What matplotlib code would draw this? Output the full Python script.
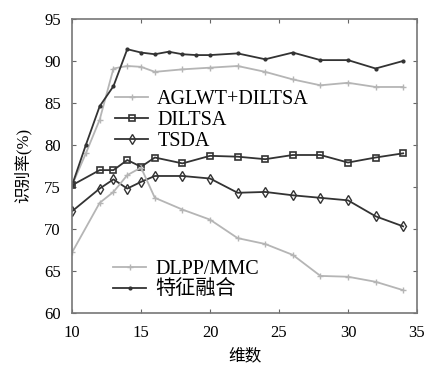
import matplotlib.pyplot as plt

plt.rcParams['font.family'] = ['Liberation Serif', 'Noto Sans CJK SC']

# --- dados ---
x_fus = [10, 11, 12, 13, 14, 15, 16, 17, 18, 19, 20, 22, 24, 26, 28, 30, 32, 34]
y_fus = [75.2, 80.0, 84.6, 87.0, 91.4, 91.0, 90.8, 91.1, 90.8, 90.7, 90.7, 90.9, 90.2, 91.0, 90.1, 90.1, 89.1, 90.0]

x_agl = [10, 11, 12, 13, 14, 15, 16, 18, 20, 22, 24, 26, 28, 30, 32, 34]
y_agl = [75.2, 79.0, 83.0, 89.1, 89.4, 89.3, 88.7, 89.0, 89.2, 89.4, 88.7, 87.8, 87.1, 87.4, 86.9, 86.9]

x_std = [10, 12, 13, 14, 15, 16, 18, 20, 22, 24, 26, 28, 30, 32, 34]
y_dil = [75.2, 77.0, 77.0, 78.2, 77.4, 78.5, 77.8, 78.7, 78.6, 78.3, 78.8, 78.8, 77.9, 78.5, 79.0]
y_tsda = [72.1, 74.8, 75.9, 74.8, 75.6, 76.3, 76.3, 76.0, 74.3, 74.4, 74.0, 73.7, 73.4, 71.5, 70.3]
y_dlpp = [67.2, 73.1, 74.4, 76.4, 77.3, 73.7, 72.3, 71.1, 68.9, 68.2, 66.9, 64.4, 64.3, 63.7, 62.7]

dark = '#333333'
light = '#b5b5b5'

fig = plt.figure(figsize=(4.29, 3.72), dpi=100)
ax = fig.add_axes([0.168, 0.159, 0.804, 0.79])

l1, = ax.plot(x_agl, y_agl, '-', color=light, marker='+', ms=5, lw=1.3, label='AGLWT+DILTSA')
l2, = ax.plot(x_std, y_dil, '-', color=dark, marker='s', ms=5, mfc='none', mew=1.2, lw=1.3, label='DILTSA')
l3, = ax.plot(x_std, y_tsda, '-', color=dark, marker='d', ms=5, mfc='none', mew=1.0, lw=1.3, label='TSDA')
l4, = ax.plot(x_std, y_dlpp, '-', color=light, marker='+', ms=5, lw=1.3, label='DLPP/MMC')
l5, = ax.plot(x_fus, y_fus, '-', color=dark, marker='.', ms=4, lw=1.3, label='特征融合')

ax.set_xlim(10, 35)
ax.set_ylim(60, 95)
ax.set_xticks(range(10, 36, 5))
ax.set_yticks(range(60, 96, 5))
ax.tick_params(direction='in', top=True, right=True, labelsize=12, length=3, color='#666666')
ax.tick_params(axis='x', pad=9)
ax.tick_params(axis='y', pad=8)
for s in ax.spines.values():
    s.set_color('#777777')
    s.set_linewidth(1.2)

ax.set_xlabel('维数', fontsize=12, labelpad=5)
ax.set_ylabel('识别率(%)', fontsize=12, labelpad=9)

leg_kw = dict(frameon=False, fontsize=14.5, handlelength=1.65, handletextpad=0.45,
              labelspacing=0.1, borderaxespad=0)
leg1 = ax.legend(handles=[l1, l2, l3], loc='upper left', bbox_to_anchor=(0.101, 0.786), **leg_kw)
ax.add_artist(leg1)
ax.legend(handles=[l4, l5], loc='upper left', bbox_to_anchor=(0.095, 0.207), **leg_kw)

plt.savefig('out.png', dpi=100)
